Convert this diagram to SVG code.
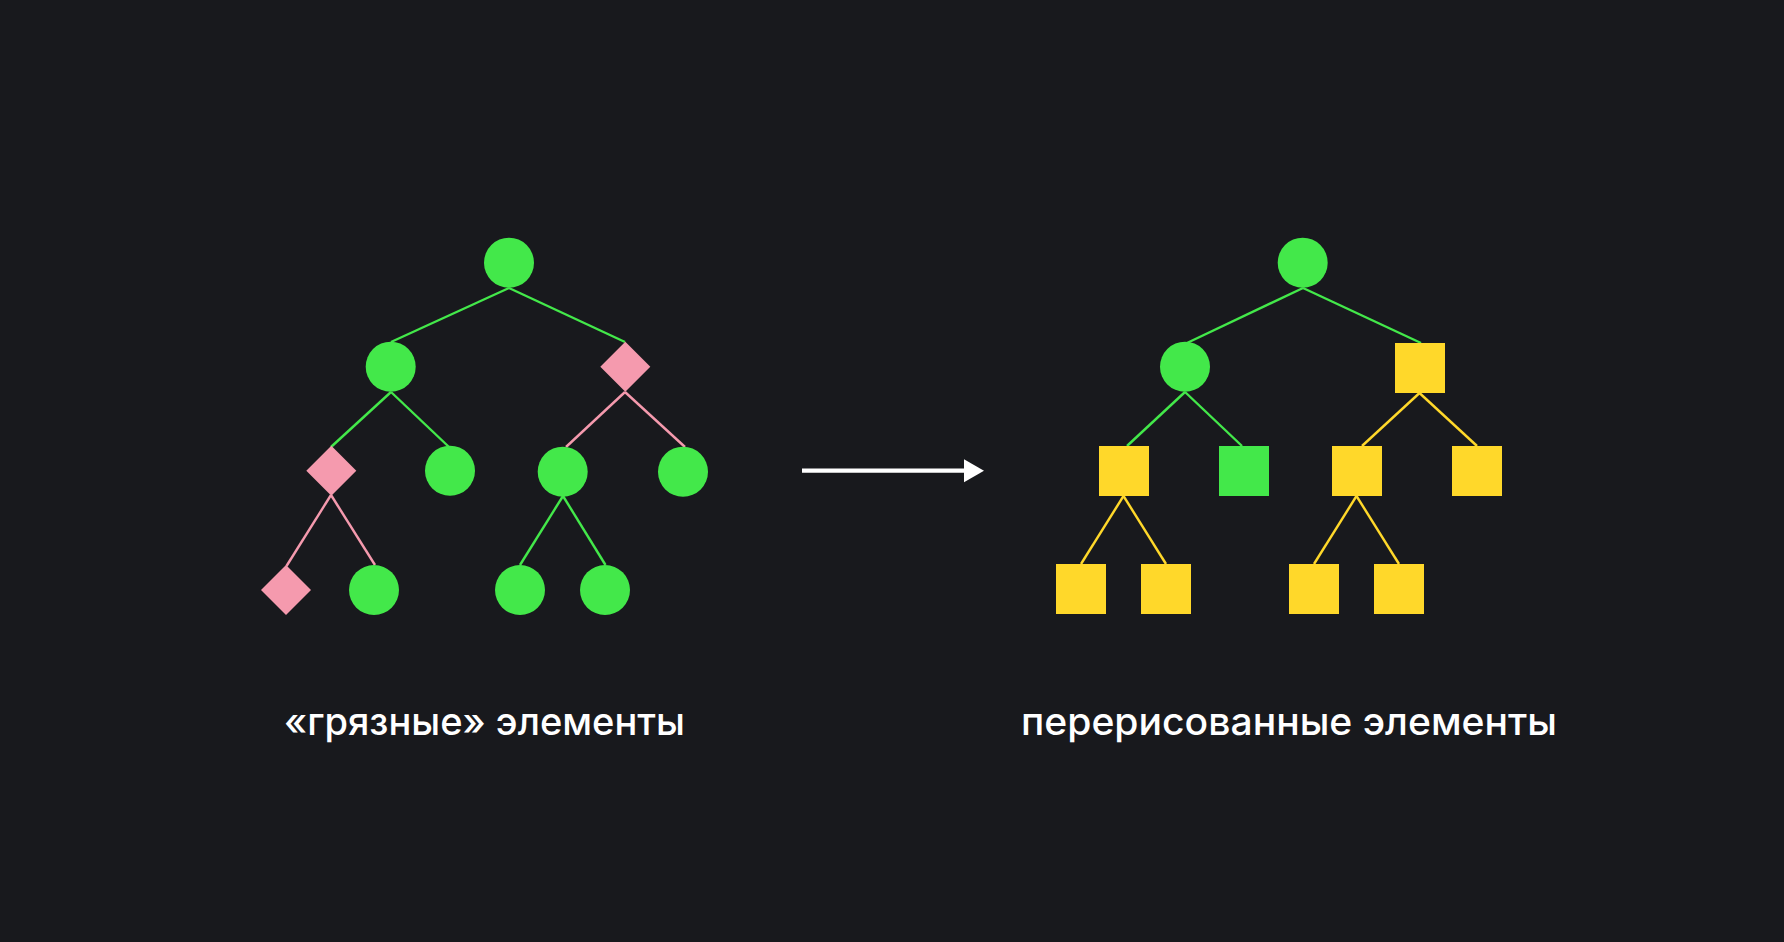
<svg xmlns="http://www.w3.org/2000/svg" width="1784" height="942" viewBox="0 0 1784 942">
<style>
.g{fill:#43e84a}
.p{fill:#f59aae}
.y{fill:#ffd82a}
.lg{stroke:#43e84a;stroke-width:2.4;fill:none}
.lp{stroke:#f59aae;stroke-width:2.4;fill:none}
.ly{stroke:#ffd82a;stroke-width:2.4;fill:none}
.t{fill:#ffffff;font-family:Inter,"Noto Sans","Liberation Sans",sans-serif;font-size:38px;font-weight:500}
</style>
<rect width="1784" height="942" fill="#18191d"/>
<g id="connectors">
<line class="lg" x1="509" y1="288" x2="391" y2="342"/>
<line class="lg" x1="509" y1="288" x2="625" y2="342"/>
<line class="lg" x1="391" y1="392" x2="331" y2="447"/>
<line class="lg" x1="391" y1="392" x2="449" y2="447"/>
<line class="lp" x1="625" y1="392" x2="566" y2="447"/>
<line class="lp" x1="625" y1="392" x2="685" y2="447"/>
<line class="lp" x1="331" y1="495" x2="286.5" y2="566"/>
<line class="lp" x1="331" y1="495" x2="375" y2="565"/>
<line class="lg" x1="563" y1="496" x2="520" y2="565"/>
<line class="lg" x1="563" y1="496" x2="605.5" y2="565"/>
<line class="lg" x1="1303" y1="288" x2="1187" y2="343"/>
<line class="lg" x1="1303" y1="288" x2="1421" y2="343"/>
<line class="lg" x1="1185" y1="392" x2="1127" y2="446"/>
<line class="lg" x1="1185" y1="392" x2="1242" y2="446"/>
<line class="ly" x1="1419.5" y1="393" x2="1362" y2="446"/>
<line class="ly" x1="1419.5" y1="393" x2="1477" y2="446"/>
<line class="ly" x1="1123.5" y1="496" x2="1081" y2="564"/>
<line class="ly" x1="1123.5" y1="496" x2="1166" y2="564"/>
<line class="ly" x1="1356.5" y1="496" x2="1314" y2="564"/>
<line class="ly" x1="1356.5" y1="496" x2="1399" y2="564"/>
<line x1="802" y1="470.7" x2="966" y2="470.7" stroke="#ffffff" stroke-width="4.3"/>
<path d="M964,459.3 L984,470.7 L964,482.3 Z" fill="#ffffff"/>
</g>
<g id="l-root"><circle class="g" cx="509" cy="262.7" r="25"/></g>
<g id="l-a"><circle class="g" cx="390.7" cy="366.7" r="25"/></g>
<g id="l-b"><path class="p" d="M625.3,341.7 L650.3,366.7 L625.3,391.7 L600.3,366.7 Z"/></g>
<g id="l-c"><path class="p" d="M331.3,445.7 L356.3,470.7 L331.3,495.7 L306.3,470.7 Z"/></g>
<g id="l-d"><circle class="g" cx="450" cy="470.7" r="25"/></g>
<g id="l-e"><circle class="g" cx="562.7" cy="471.7" r="25"/></g>
<g id="l-f"><circle class="g" cx="683" cy="471.7" r="25"/></g>
<g id="l-g"><path class="p" d="M286,565 L311,590 L286,615 L261,590 Z"/></g>
<g id="l-h"><circle class="g" cx="374" cy="590" r="25"/></g>
<g id="l-i"><circle class="g" cx="520" cy="590" r="25"/></g>
<g id="l-j"><circle class="g" cx="605" cy="590" r="25"/></g>
<g id="r-root"><circle class="g" cx="1302.7" cy="262.7" r="25"/></g>
<g id="r-a"><circle class="g" cx="1185" cy="366.7" r="25"/></g>
<g id="r-b"><rect class="y" x="1395" y="343" width="50" height="50"/></g>
<g id="r-c"><rect class="y" x="1099" y="446" width="50" height="50"/></g>
<g id="r-d"><rect class="g" x="1219" y="446" width="50" height="50"/></g>
<g id="r-e"><rect class="y" x="1332" y="446" width="50" height="50"/></g>
<g id="r-f"><rect class="y" x="1452" y="446" width="50" height="50"/></g>
<g id="r-g"><rect class="y" x="1056" y="564" width="50" height="50"/></g>
<g id="r-h"><rect class="y" x="1141" y="564" width="50" height="50"/></g>
<g id="r-i"><rect class="y" x="1289" y="564" width="50" height="50"/></g>
<g id="r-j"><rect class="y" x="1374" y="564" width="50" height="50"/></g>
<g id="labels">
<text class="t" x="284" y="735" textLength="401" lengthAdjust="spacingAndGlyphs">«грязные» элементы</text>
<text class="t" x="1021" y="735" textLength="536" lengthAdjust="spacingAndGlyphs">перерисованные элементы</text>
</g>
</svg>
